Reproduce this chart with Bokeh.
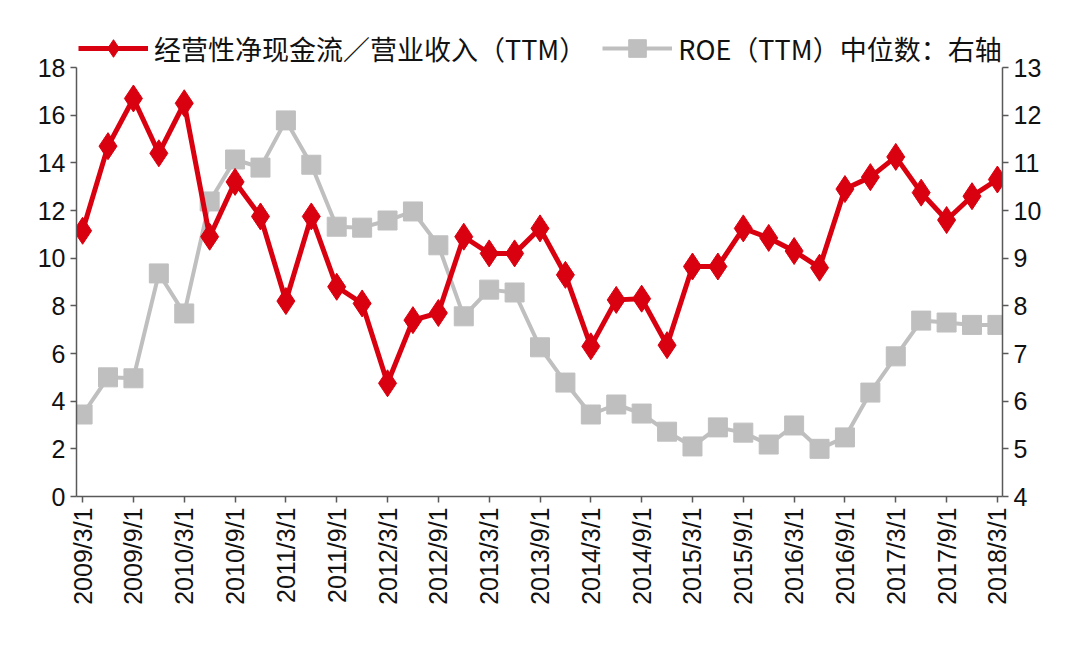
import math
from bokeh.plotting import figure
from bokeh.models import (Range1d, LinearAxis, FixedTicker, Legend, LegendItem)
from bokeh.embed import file_html
from bokeh.resources import INLINE

dates = ["2009/3/1", "2009/6/1", "2009/9/1", "2009/12/1",
         "2010/3/1", "2010/6/1", "2010/9/1", "2010/12/1",
         "2011/3/1", "2011/6/1", "2011/9/1", "2011/12/1",
         "2012/3/1", "2012/6/1", "2012/9/1", "2012/12/1",
         "2013/3/1", "2013/6/1", "2013/9/1", "2013/12/1",
         "2014/3/1", "2014/6/1", "2014/9/1", "2014/12/1",
         "2015/3/1", "2015/6/1", "2015/9/1", "2015/12/1",
         "2016/3/1", "2016/6/1", "2016/9/1", "2016/12/1",
         "2017/3/1", "2017/6/1", "2017/9/1", "2017/12/1",
         "2018/3/1"]

cfo_ratio = [11.15, 14.7, 16.7, 14.4, 16.5, 10.9, 13.2, 11.75,
             8.2, 11.75, 8.8, 8.1, 4.75, 7.4, 7.7, 10.9,
             10.2, 10.2, 11.25, 9.3, 6.3, 8.25, 8.3, 6.35,
             9.65, 9.65, 11.25, 10.85, 10.3, 9.6, 12.9, 13.4,
             14.25, 12.75, 11.6, 12.6, 13.3]

roe_median = [5.72, 6.5, 6.48, 8.68, 7.84, 10.19, 11.07, 10.9,
              11.89, 10.96, 9.66, 9.64, 9.79, 9.98, 9.27, 7.78,
              8.34, 8.28, 7.13, 6.39, 5.72, 5.93, 5.74, 5.36,
              5.05, 5.45, 5.34, 5.09, 5.49, 5.0, 5.24, 6.18,
              6.94, 7.69, 7.65, 7.6, 7.6]

left_ticks = [0, 2, 4, 6, 8, 10, 12, 14, 16, 18]
right_ticks = [4, 5, 6, 7, 8, 9, 10, 11, 12, 13]

label1 = "经营性净现金流／营业收入（TTM）"
label2 = "ROE（TTM）中位数：右轴"

RED = "#D9000F"
GREY = "#BFBFBF"
AXIS = "#595959"

xs = list(range(len(dates)))

# frame spans 476 px; the axes themselves occupy the lower 429 px,
# the space above holds the legend
FRAME_H = 476
AXIS_H = 429
left_top = 18 * FRAME_H / AXIS_H
right_top = 4 + 9 * FRAME_H / AXIS_H

p = figure(width=1064, height=640, output_backend="svg", toolbar_location=None,
           x_range=Range1d(-0.24, 36.2), y_range=Range1d(0, left_top),
           min_border_left=76, min_border_right=62, min_border_bottom=144,
           min_border_top=20)
p.extra_y_ranges = {"right": Range1d(4, right_top)}

p.grid.visible = False
p.outline_line_color = None
p.background_fill_color = "white"
p.border_fill_color = "white"

def style_axis(ax, size):
    ax.major_label_text_font = "Liberation Sans"
    ax.major_label_text_font_size = size
    ax.major_label_text_color = "#111111"
    ax.minor_tick_line_color = None
    ax.major_tick_in = 0
    ax.major_tick_out = 6
    ax.axis_line_color = AXIS
    ax.major_tick_line_color = AXIS
    ax.axis_line_width = 1.5
    ax.major_tick_line_width = 1.5

xa = p.xaxis[0]
xa.ticker = FixedTicker(ticks=[i for i in xs if i % 2 == 0])
xa.major_label_overrides = {i: dates[i] for i in xs if i % 2 == 0}
xa.major_label_orientation = math.pi / 2
style_axis(xa, "25px")

ya = p.yaxis[0]
ya.ticker = FixedTicker(ticks=left_ticks)
ya.bounds = (0, 18)
style_axis(ya, "25px")

ra = LinearAxis(y_range_name="right", ticker=FixedTicker(ticks=right_ticks),
                bounds=(4, 13))
style_axis(ra, "25px")
p.add_layout(ra, "right")

gl = p.line(xs, roe_median, y_range_name="right", line_color=GREY, line_width=4)
gm = p.scatter(xs, roe_median, y_range_name="right", marker="square", size=19,
               fill_color=GREY, line_color=GREY)
rl = p.line(xs, cfo_ratio, line_color=RED, line_width=5)
rm = p.scatter(xs, cfo_ratio, marker="diamond", size=27,
               fill_color=RED, line_color=RED)

legend = Legend(items=[LegendItem(label=label1, renderers=[rl, rm]),
                       LegendItem(label=label2, renderers=[gl, gm])],
                orientation="horizontal", location=(2, 426),
                label_text_font="Noto Sans CJK SC", label_text_font_size="27px",
                label_text_color="#111111",
                glyph_width=70, glyph_height=44, spacing=16, padding=2,
                margin=0, border_line_color=None, background_fill_alpha=0,
                label_standoff=6)
p.add_layout(legend, "center")

open("out.html", "w").write(file_html(p, INLINE))
